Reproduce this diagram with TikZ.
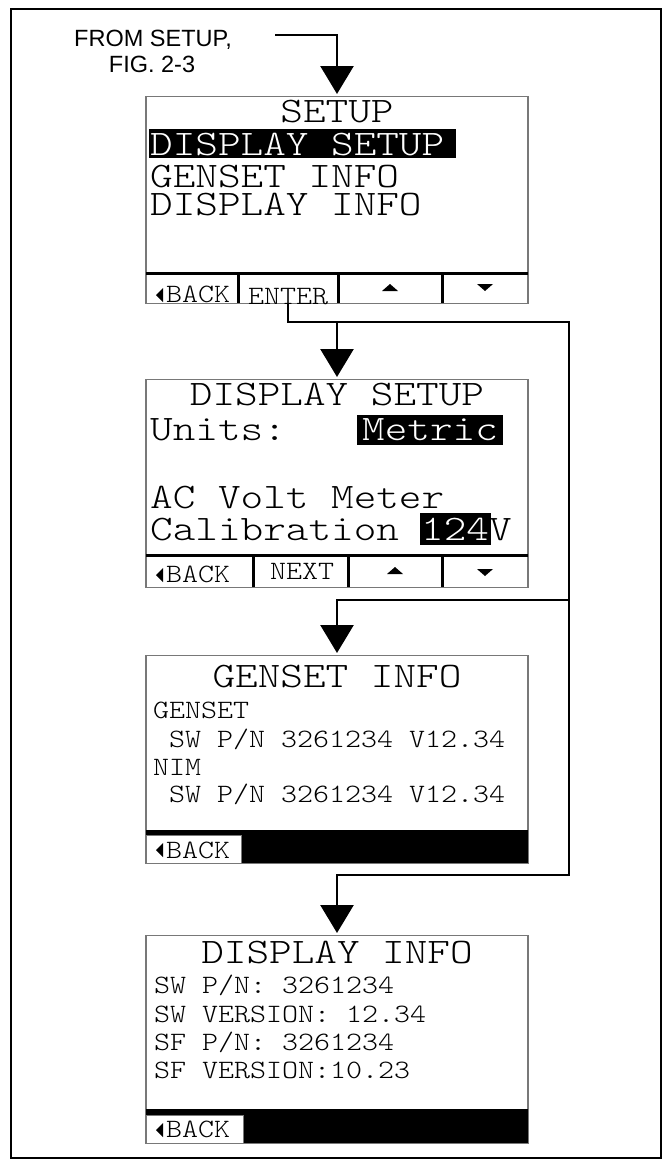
\documentclass[tikz,border=0pt]{standalone}
\usepackage{fontspec}
\usetikzlibrary{arrows.meta,positioning}
\newfontfamily\lcdfont{lmmonolt10-regular.otf}[FakeStretch=1.2]
\newfontfamily\lcdfontsm{lmmonolt10-regular.otf}[FakeStretch=1.15]
\newfontfamily\capfont{Liberation Sans}
\newcommand\lcdbig{\lcdfont\fontsize{35.9}{38}\selectfont}
\newcommand\lcdsmall{\lcdfontsm\fontsize{26.5}{28}\selectfont}
\definecolor{edgegray}{RGB}{120,120,120}
\tikzset{
  scrn/.style={draw=edgegray, line width=1.1pt, inner sep=0pt, minimum width=382pt},
  lcdtitle/.style={font=\lcdbig, inner sep=0pt, text height=21pt, text depth=0pt, anchor=base},
  lcdrow/.style={font=\lcdbig, inner sep=0pt, text height=21pt, text depth=0pt, anchor=base west},
  lcdinfo/.style={font=\lcdsmall, inner sep=0pt, text height=16pt, text depth=0pt, anchor=base west},
  btnlbl/.style={font=\lcdsmall, inner sep=0pt, text height=16pt, text depth=0pt, anchor=base},
  backlbl/.style={font=\lcdsmall, inner sep=0pt, text height=16pt, text depth=0pt, anchor=base west},
  bar/.style={line width=3pt},
  backcell/.style={fill=white, draw=edgegray, line width=1pt},
  note/.style={font=\capfont\fontsize{23.5}{26}\selectfont, inner sep=0pt, anchor=base},
  flow/.style={line width=2.5pt, -{Triangle[length=28pt,width=33pt]}, shorten >=2pt},
}
\begin{document}
\begin{tikzpicture}[x=1pt,y=-1pt]
\useasboundingbox (0,0) rectangle (665,1167);
%% outer frame
\draw[line width=2.2pt] (11,9) rectangle (661,1158);
%% entry label
\node[note] (fromA) at (153,46) {FROM SETUP,};
\node[note] (fromB) at (152,72) {FIG. 2-3};
\coordinate (fromEnd) at (275,35);
%% Screen 1: SETUP
\node[scrn, minimum height=207pt, anchor=north] (setup) at (337,96) {};
\node[lcdtitle] (setupTitle) at (337,122) {SETUP};
\fill (149,129) rectangle (456,158);
\node[lcdrow, text=white] (setupSel) at (150,155) {DISPLAY SETUP};
\node[lcdrow] (setupGen) at (150,187) {GENSET INFO};
\node[lcdrow] (setupDisp) at (150,215) {DISPLAY INFO};
\draw[bar] (146,273) -- (528,273);
\foreach \x in {238,338,442} \draw[bar] (\x,273) -- (\x,303);
\fill (156,295) -- (163,288) -- (163,302) -- cycle;
\node[backlbl] (setupBack) at (166,302) {BACK};
\node[btnlbl] (setupEnter) at (288,304) {ENTER};
\fill (390,284) -- (398,291) -- (382,291) -- cycle;
\fill (485,291) -- (493,284) -- (477,284) -- cycle;
%% Screen 2: DISPLAY SETUP
\node[scrn, minimum height=208pt, anchor=north] (dset) at (337,379) {};
\node[lcdtitle] (dsetTitle) at (337,405) {DISPLAY SETUP};
\node[lcdrow] (dsetUnits) at (150,440) {Units:};
\fill (357,415) rectangle (503,445);
\node[lcdrow, text=white] (dsetMetric) at (362,440) {Metric};
\node[lcdrow] (dsetAC) at (150,508) {AC Volt Meter};
\node[lcdrow] (dsetCal) at (150,540) {Calibration};
\fill (420,513) rectangle (491,545);
\node[lcdrow, text=white] (dsetVal) at (421,540) {124};
\node[lcdrow] (dsetV) at (489,540) {V};
\draw[bar] (146,555) -- (528,555);
\foreach \x in {253,348,442} \draw[bar] (\x,555) -- (\x,587);
\fill (156,575) -- (163,568) -- (163,582) -- cycle;
\node[backlbl] (dsetBack) at (166,582) {BACK};
\node[btnlbl] (dsetNext) at (302,579) {NEXT};
\fill (395,567) -- (403,574) -- (387,574) -- cycle;
\fill (485,576) -- (493,569) -- (477,569) -- cycle;
%% Screen 3: GENSET INFO
\node[scrn, minimum height=208pt, anchor=north] (genset) at (337,655) {};
\node[lcdtitle] (gensetTitle) at (337,687) {GENSET INFO};
\node[lcdinfo] (gensetA) at (153,718) {GENSET};
\node[lcdinfo] (gensetB) at (169,747) {SW P/N 3261234 V12.34};
\node[lcdinfo] (gensetC) at (153,775) {NIM};
\node[lcdinfo] (gensetD) at (169,802) {SW P/N 3261234 V12.34};
\fill (146,830) rectangle (528,863);
\draw[backcell] (146.5,835) rectangle (241,863);
\fill (156,850) -- (163,843) -- (163,857) -- cycle;
\node[backlbl] (gensetBack) at (166,858) {BACK};
%% Screen 4: DISPLAY INFO
\node[scrn, minimum height=208pt, anchor=north] (dinfo) at (337,935) {};
\node[lcdtitle] (dinfoTitle) at (337,963) {DISPLAY INFO};
\node[lcdinfo] (dinfoA) at (154,993) {SW P/N: 3261234};
\node[lcdinfo] (dinfoB) at (154,1022) {SW VERSION: 12.34};
\node[lcdinfo] (dinfoC) at (154,1050) {SF P/N: 3261234};
\node[lcdinfo] (dinfoD) at (154,1078) {SF VERSION:10.23};
\fill (146,1109) rectangle (528,1143);
\draw[backcell] (146.5,1115) rectangle (243,1143);
\fill (156,1130) -- (163,1123) -- (163,1137) -- cycle;
\node[backlbl] (dinfoBack) at (166,1137) {BACK};
%% connectors
\coordinate (busT) at (569,322);
\coordinate (busM) at (569,600);
\coordinate (busB) at (569,875);
\draw[flow] (fromEnd) -| (setup.north);
\draw[flow] (setupEnter.south) |- (busT) -- (busB) -| (dinfo.north);
\draw[flow] (dset.north |- busT) -- (dset.north);
\draw[flow] (busM) -| (genset.north);
\end{tikzpicture}
\end{document}
